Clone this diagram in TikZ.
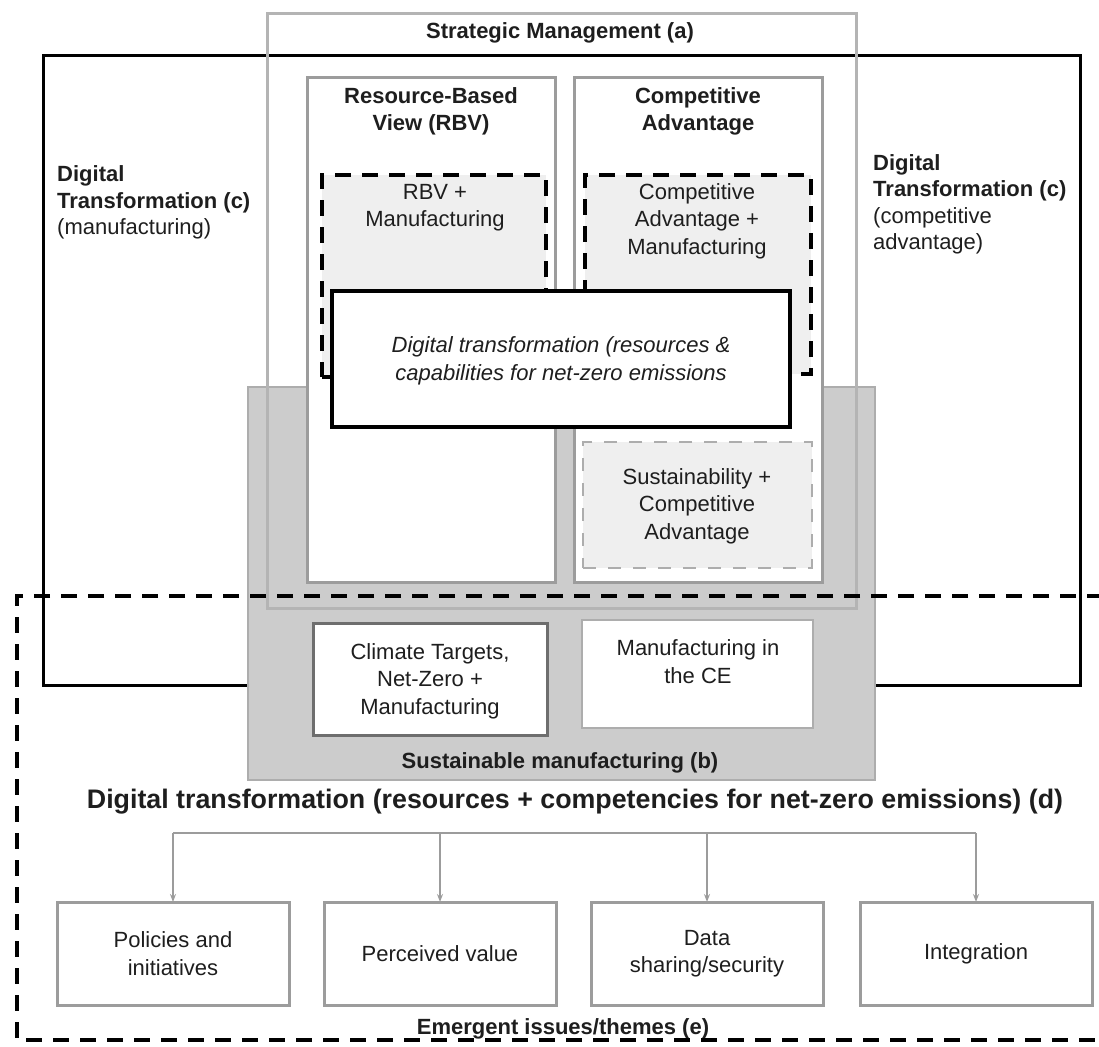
\documentclass[tikz,border=0pt]{standalone}
\usepackage{fontspec}
\setmainfont{Liberation Sans}
\usetikzlibrary{arrows.meta}

\definecolor{txt}{HTML}{1E1E1E}
\definecolor{frameline}{HTML}{B4B4B4}
\definecolor{boxline}{HTML}{9C9C9C}
\definecolor{sustfill}{HTML}{CCCCCC}
\definecolor{sustline}{HTML}{ADADAD}
\definecolor{softfill}{HTML}{EFEFEF}
\definecolor{darkline}{HTML}{6E6E6E}

\tikzset{
  x=1pt, y=-1pt,
  panel/.style={rectangle, inner sep=0pt, outer sep=0pt},
  blackframe/.style={panel, draw=black, line width=3pt},
  greyframe/.style={panel, draw=frameline, line width=3pt},
  whitepanel/.style={panel, draw=boxline, line width=3pt, fill=white},
  sustpanel/.style={panel, draw=sustline, line width=2pt, fill=sustfill},
  blackdash/.style={panel, draw=black, line width=3.5pt, fill=softfill,
    dash pattern=on 16pt off 11pt},
  greydash/.style={panel, draw=sustline, line width=2.5pt, fill=softfill,
    dash pattern=on 13pt off 12pt},
  corebox/.style={panel, draw=black, line width=3.5pt, fill=white},
  climbox/.style={panel, draw=darkline, line width=3pt, fill=white},
  cebox/.style={panel, draw=sustline, line width=2.5pt, fill=white},
  themebox/.style={panel, draw=boxline, line width=3pt, fill=white},
  lbl/.style={text=txt, align=center, inner sep=0pt,
    font=\fontsize{22}{27.5}\selectfont},
  boldlbl/.style={lbl, font=\fontsize{22}{27.5}\selectfont\bfseries},
  sidelbl/.style={text=txt, align=left, inner sep=0pt, anchor=west,
    font=\fontsize{22}{26.5}\selectfont},
  feed/.style={draw=boxline, line width=1.5pt},
  feedarrow/.style={feed, -{Stealth[length=8pt,width=6pt]}},
}

\begin{document}
\begin{tikzpicture}
\useasboundingbox (0,0) rectangle (1099,1046);

% Digital transformation frame (c)
\node[blackframe, minimum width=1037pt, minimum height=629pt] (dtframe) at (561.5,370.5) {};

% Sustainable manufacturing (b)
\node[sustpanel, minimum width=627pt, minimum height=393pt] (sustain) at (561.5,583.5) {};

% Strategic management (a)
\node[greyframe, minimum width=589pt, minimum height=594pt] (strategic) at (561.5,311) {};

% Resource-based view and competitive advantage columns
\node[whitepanel, minimum width=248pt, minimum height=504pt] (rbv) at (431,330) {};
\node[whitepanel, minimum width=248pt, minimum height=504pt] (compadv) at (698,330) {};

% Dashed intersection boxes
\node[blackdash, minimum width=224pt, minimum height=202pt] (rbvmfg) at (434,276) {};
\node[blackdash, minimum width=226pt, minimum height=199pt] (camfg) at (698,274.5) {};
\node[greydash, minimum width=229pt, minimum height=126pt] (susca) at (697.5,505) {};

% Central digital transformation box
\node[corebox, minimum width=458pt, minimum height=136pt] (core) at (561,359) {};

% Sustainable manufacturing contents
\node[climbox, minimum width=234pt, minimum height=112pt] (climate) at (430,679) {};
\node[cebox, minimum width=231pt, minimum height=108pt] (circular) at (697.5,674) {};

% Labels
\node[boldlbl] (stratlbl) at (560,33) {Strategic Management (a)};
\node[boldlbl] (rbvlbl) at (431,111.5) {Resource-Based\\View (RBV)};
\node[boldlbl] (calbl) at (698,111.5) {Competitive\\Advantage};
\node[lbl] (rbvmfglbl) at (435,207.5) {RBV +\\Manufacturing};
\node[lbl] (camfglbl) at (697,221) {Competitive\\Advantage +\\Manufacturing};
\node[lbl, font=\fontsize{22}{27.5}\selectfont\itshape] (corelbl) at (561,361)
  {Digital transformation (resources \&\\capabilities for net-zero emissions};
\node[lbl] (suscalbl) at (697,506) {Sustainability +\\Competitive\\Advantage};
\node[lbl] (climatelbl) at (430,681) {Climate Targets,\\Net-Zero +\\Manufacturing};
\node[lbl] (circularlbl) at (698,661.5) {Manufacturing in\\the CE};
\node[boldlbl] (sustlbl) at (560,763) {Sustainable manufacturing (b)};

\node[sidelbl] (leftlbl) at (57,202.5)
  {\textbf{Digital}\\\textbf{Transformation (c)}\\(manufacturing)};
\node[sidelbl] (rightlbl) at (873,204.5)
  {\textbf{Digital}\\\textbf{Transformation (c)}\\(competitive\\advantage)};

% Digital transformation (d) and emergent themes (e)
\node[boldlbl, font=\fontsize{26.8}{30}\selectfont\bfseries] (dtitle) at (575,802)
  {Digital transformation (resources + competencies for net-zero emissions) (d)};

\node[themebox, minimum width=232pt, minimum height=103pt] (policies) at (173,953.5) {};
\node[themebox, minimum width=232pt, minimum height=103pt] (perceived) at (440,953.5) {};
\node[themebox, minimum width=232pt, minimum height=103pt] (datashare) at (707,953.5) {};
\node[themebox, minimum width=232pt, minimum height=103pt] (integration) at (976,953.5) {};

\node[lbl] (policieslbl) at (policies) {Policies and\\initiatives};
\node[lbl] (perceivedlbl) at (perceived) {Perceived value};
\node[lbl] (datasharelbl) at (datashare) {Data\\sharing/security};
\node[lbl] (integrationlbl) at (integration) {Integration};

\node[boldlbl] (emergentlbl) at (563,1029) {Emergent issues/themes (e)};

% Distribution bar with arrows to the themes
\coordinate (bar1) at (173,833);
\coordinate (bar2) at (440,833);
\coordinate (bar3) at (707,833);
\coordinate (bar4) at (976,833);
\draw[feed] (bar1) -- (bar4);
\draw[feedarrow] (bar1) -- (policies.north);
\draw[feedarrow] (bar2) -- (perceived.north);
\draw[feedarrow] (bar3) -- (datashare.north);
\draw[feedarrow] (bar4) -- (integration.north);

% Emergent issues frame (e), open beyond the right edge
\coordinate (etr) at (1130,596);
\coordinate (etl) at (17,596);
\coordinate (ebl) at (17,1040);
\coordinate (ebr) at (1130,1040);
\draw[black, line width=3.5pt, dash pattern=on 16pt off 11pt] (etr) -- (etl) -- (ebl) -- (ebr);

\end{tikzpicture}
\end{document}
